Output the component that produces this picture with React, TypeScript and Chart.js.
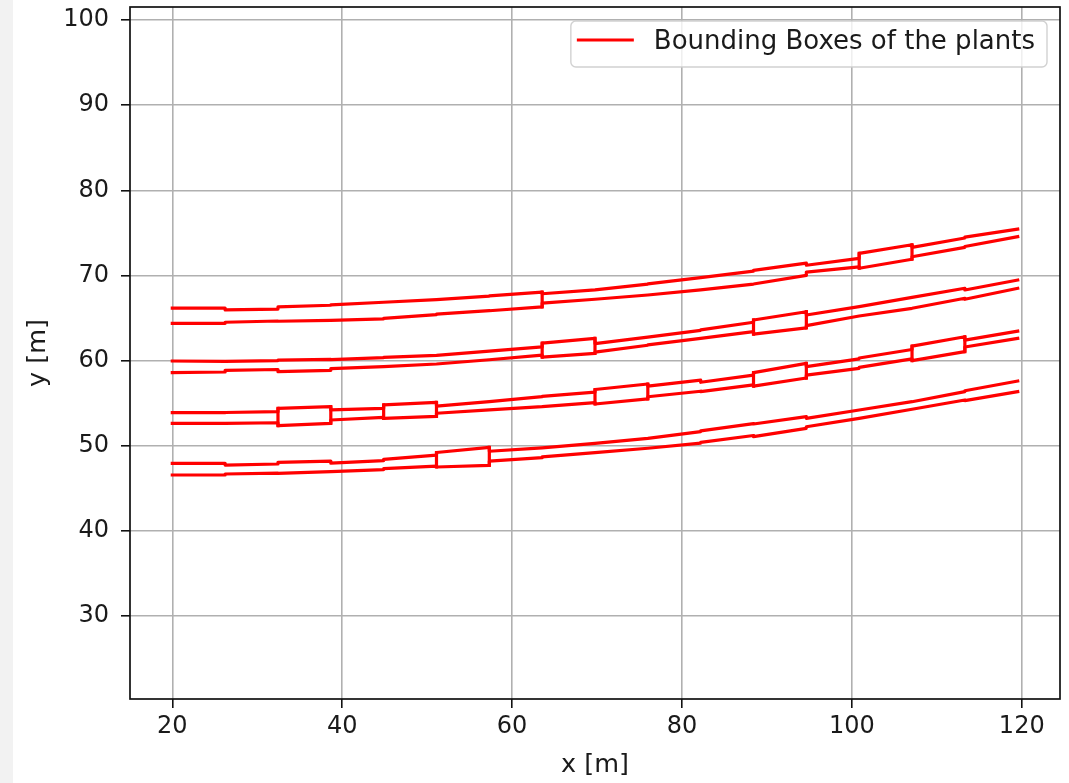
import React, { useEffect, useRef } from 'react';
import { Chart, registerables } from 'chart.js';

Chart.register(...registerables);

// Box boundaries along the rows (x, metres)
const boxEdges = [20, 26.22, 32.44, 38.66, 44.88, 51.1, 57.32, 63.54, 69.76, 75.98, 82.2, 88.42, 94.64, 100.86, 107.08, 113.3, 119.52];

// Each box: [top at left edge, top at right edge, bottom at left edge, bottom at right edge]
const row1Boxes = [
  [66.15, 66.15, 64.38, 64.38],
  [65.95, 66.05, 64.5, 64.65],
  [66.3, 66.5, 64.62, 64.72],
  [66.55, 66.85, 64.72, 64.9],
  [66.85, 67.15, 64.95, 65.4],
  [67.15, 67.58, 65.45, 65.86],
  [67.6, 68.05, 65.85, 66.3],
  [67.85, 68.3, 66.75, 67.2],
  [68.3, 68.99, 67.2, 67.7],
  [69.0, 69.75, 67.7, 68.3],
  [69.75, 70.5, 68.3, 68.99],
  [70.6, 71.45, 68.99, 70.0],
  [71.2, 72.0, 70.4, 71.0],
  [72.6, 73.6, 70.85, 71.9],
  [73.3, 74.4, 72.2, 73.3],
  [74.5, 75.45, 73.4, 74.55],
];

const row2Boxes = [
  [59.95, 59.9, 58.58, 58.66],
  [59.9, 60.0, 58.85, 58.95],
  [60.05, 60.15, 58.7, 58.85],
  [60.12, 60.35, 59.05, 59.3],
  [60.38, 60.6, 59.3, 59.6],
  [60.6, 61.1, 59.6, 60.1],
  [61.1, 61.6, 60.1, 60.65],
  [62.05, 62.6, 60.4, 60.85],
  [62.0, 62.75, 61.0, 61.8],
  [62.75, 63.55, 61.85, 62.6],
  [63.6, 64.5, 62.6, 63.4],
  [64.77, 65.74, 63.1, 63.85],
  [65.35, 66.33, 64.1, 65.24],
  [66.33, 67.43, 65.24, 66.14],
  [67.43, 68.49, 66.14, 67.32],
  [68.29, 69.46, 67.2, 68.49],
];

const row3Boxes = [
  [53.88, 53.88, 52.63, 52.63],
  [53.9, 54.0, 52.63, 52.7],
  [54.39, 54.58, 52.35, 52.63],
  [54.2, 54.39, 53.02, 53.33],
  [54.8, 55.1, 53.2, 53.45],
  [54.66, 55.17, 53.81, 54.2],
  [55.17, 55.76, 54.2, 54.58],
  [55.8, 56.3, 54.6, 55.05],
  [56.6, 57.25, 54.9, 55.5],
  [57.0, 57.7, 55.75, 56.4],
  [57.45, 58.3, 56.35, 57.15],
  [58.58, 59.68, 57.0, 57.95],
  [59.28, 60.2, 58.3, 59.09],
  [60.3, 61.3, 59.2, 60.2],
  [61.7, 62.8, 60.0, 61.05],
  [62.4, 63.45, 61.6, 62.6],
];

const row4Boxes = [
  [47.93, 47.93, 46.56, 46.56],
  [47.73, 47.85, 46.68, 46.78],
  [48.05, 48.2, 46.76, 46.95],
  [47.95, 48.25, 46.95, 47.2],
  [48.4, 48.9, 47.3, 47.6],
  [49.2, 49.8, 47.5, 47.7],
  [49.35, 49.75, 48.2, 48.6],
  [49.75, 50.28, 48.7, 49.18],
  [50.28, 50.87, 49.18, 49.7],
  [50.87, 51.65, 49.7, 50.3],
  [51.75, 52.6, 50.4, 51.2],
  [52.55, 53.41, 51.06, 52.04],
  [53.22, 54.2, 52.23, 53.22],
  [54.2, 55.17, 53.22, 54.28],
  [55.17, 56.35, 54.28, 55.37],
  [56.45, 57.6, 55.3, 56.35],
];

// Box boundaries (index into boxEdges) where a box end crosses the whole band
const row1CrossEdges = [7, 13, 14];
const row2CrossEdges = [7, 8, 11, 12];
const row3CrossEdges = [2, 3, 4, 5, 8, 9, 11, 12, 14, 15];
const row4CrossEdges = [5, 6];

const xTicks = [20, 40, 60, 80, 100, 120];
const yTicks = [30, 40, 50, 60, 70, 80, 90, 100];
const xRange = [15.02, 124.5];
const yRange = [20.25, 101.53];
const legendLabel = 'Bounding Boxes of the plants';
const xTitle = 'x [m]';
const yTitle = 'y [m]';

const FONT = '"DejaVu Sans", Verdana, sans-serif';
const RED = '#ff0000';

const decorPlugin = {
  id: 'decor',
  beforeDraw(chart: any) {
    const { ctx } = chart;
    ctx.save();
    ctx.fillStyle = '#ffffff';
    ctx.fillRect(0, 0, chart.width, chart.height);
    ctx.fillStyle = '#f2f2f2';
    ctx.fillRect(0, 0, 13, chart.height);
    ctx.restore();
  },
  afterDatasetsDraw(chart: any) {
    const { ctx, chartArea: ca } = chart;
    ctx.save();
    // frame
    ctx.strokeStyle = '#111111';
    ctx.lineWidth = 1.7;
    ctx.strokeRect(ca.left, ca.top, ca.right - ca.left, ca.bottom - ca.top);
    // legend
    ctx.font = `26px ${FONT}`;
    const tw = ctx.measureText(legendLabel).width;
    const w = 83 + tw + 12;
    const h = 46;
    const x = ca.right - 13 - w;
    const y = ca.top + 14;
    ctx.beginPath();
    (ctx as any).roundRect(x, y, w, h, 5);
    ctx.fillStyle = 'rgba(255,255,255,0.8)';
    ctx.fill();
    ctx.strokeStyle = 'rgba(204,204,204,0.9)';
    ctx.lineWidth = 1.4;
    ctx.stroke();
    ctx.beginPath();
    ctx.moveTo(x + 6, y + 19);
    ctx.lineTo(x + 63, y + 19);
    ctx.strokeStyle = RED;
    ctx.lineWidth = 3.2;
    ctx.stroke();
    ctx.fillStyle = '#1a1a1a';
    ctx.textBaseline = 'alphabetic';
    ctx.textAlign = 'left';
    ctx.fillText(legendLabel, x + 83, y + 27.5);
    ctx.restore();
  },
};

function sidePolyline(boxes: number[][], topSide: boolean) {
  const pts: { x: number; y: number }[] = [];
  boxes.forEach((b, i) => {
    pts.push({ x: boxEdges[i], y: topSide ? b[0] : b[2] });
    pts.push({ x: boxEdges[i + 1], y: topSide ? b[1] : b[3] });
  });
  return pts;
}

function crossEdge(boxes: number[][], k: number) {
  const prev = boxes[k - 1];
  const next = boxes[k];
  const tops: number[] = [];
  const bots: number[] = [];
  if (prev) { tops.push(prev[1]); bots.push(prev[3]); }
  if (next) { tops.push(next[0]); bots.push(next[2]); }
  return [
    { x: boxEdges[k], y: Math.max(...tops) },
    { x: boxEdges[k], y: Math.min(...bots) },
  ];
}

const lineStyle = {
  label: legendLabel,
  showLine: true,
  borderColor: RED,
  backgroundColor: RED,
  borderWidth: 3.2,
  pointRadius: 0,
  pointHoverRadius: 0,
  fill: false,
  tension: 0,
  borderJoinStyle: 'round',
  borderCapStyle: 'square',
};

export default function App() {
  const canvasRef = useRef<HTMLCanvasElement | null>(null);

  useEffect(() => {
    const canvas = canvasRef.current;
    if (!canvas) return;
    const rows = [row1Boxes, row2Boxes, row3Boxes, row4Boxes];
    const crosses = [row1CrossEdges, row2CrossEdges, row3CrossEdges, row4CrossEdges];
    const datasets: any[] = [];
    rows.forEach((boxes, r) => {
      [true, false].forEach((topSide) => {
        datasets.push({ ...lineStyle, data: sidePolyline(boxes, topSide) });
      });
      crosses[r].forEach((k) => {
        datasets.push({ ...lineStyle, data: crossEdge(boxes, k) });
      });
    });

    const tickFont = { family: FONT, size: 24 };
    const titleFont = { family: FONT, size: 25.5 };

    const chart = new Chart(canvas, {
      type: 'scatter',
      data: { datasets },
      plugins: [decorPlugin],
      options: {
        responsive: false,
        animation: false,
        devicePixelRatio: 1,
        events: [],
        layout: { padding: { top: 7, right: 9, left: 0, bottom: 0 } },
        plugins: {
          legend: { display: false },
          tooltip: { enabled: false },
        },
        scales: {
          x: {
            type: 'linear',
            min: xRange[0],
            max: xRange[1],
            afterBuildTicks: (scale: any) => {
              scale.ticks = xTicks.map((v) => ({ value: v }));
            },
            afterFit: (scale: any) => {
              scale.height = 84;
              scale.paddingLeft = 0;
              scale.paddingRight = 0;
              scale.paddingTop = 0;
              scale.paddingBottom = 0;
            },
            ticks: {
              font: tickFont,
              color: '#1a1a1a',
              padding: 4,
              maxRotation: 0,
              autoSkip: false,
              callback: (v: any) => String(v),
            },
            grid: {
              color: '#b0b0b0',
              lineWidth: 1.6,
              drawTicks: true,
              tickLength: 9,
              tickColor: '#111111',
              tickWidth: 1.6,
            },
            border: { display: false },
            title: {
              display: true,
              text: xTitle,
              font: titleFont,
              color: '#1a1a1a',
              padding: { top: 0, bottom: 2 },
            },
          },
          y: {
            type: 'linear',
            min: yRange[0],
            max: yRange[1],
            afterBuildTicks: (scale: any) => {
              scale.ticks = yTicks.map((v) => ({ value: v }));
            },
            afterFit: (scale: any) => {
              scale.width = 130;
              scale.paddingLeft = 0;
              scale.paddingRight = 0;
              scale.paddingTop = 0;
              scale.paddingBottom = 0;
            },
            ticks: {
              font: tickFont,
              color: '#1a1a1a',
              padding: 12,
              autoSkip: false,
              callback: (v: any) => String(v),
            },
            grid: {
              color: '#b0b0b0',
              lineWidth: 1.6,
              drawTicks: true,
              tickLength: 9,
              tickColor: '#111111',
              tickWidth: 1.6,
            },
            border: { display: false },
            title: {
              display: true,
              text: yTitle,
              font: titleFont,
              color: '#1a1a1a',
              padding: { top: 23, bottom: 0 },
            },
          },
        },
      },
    });
    return () => chart.destroy();
  }, []);

  return (
    <div style={{ position: 'absolute', left: 0, top: 0, width: 1069, height: 783 }}>
      <canvas ref={canvasRef} width={1069} height={783} style={{ display: 'block' }} />
    </div>
  );
}
